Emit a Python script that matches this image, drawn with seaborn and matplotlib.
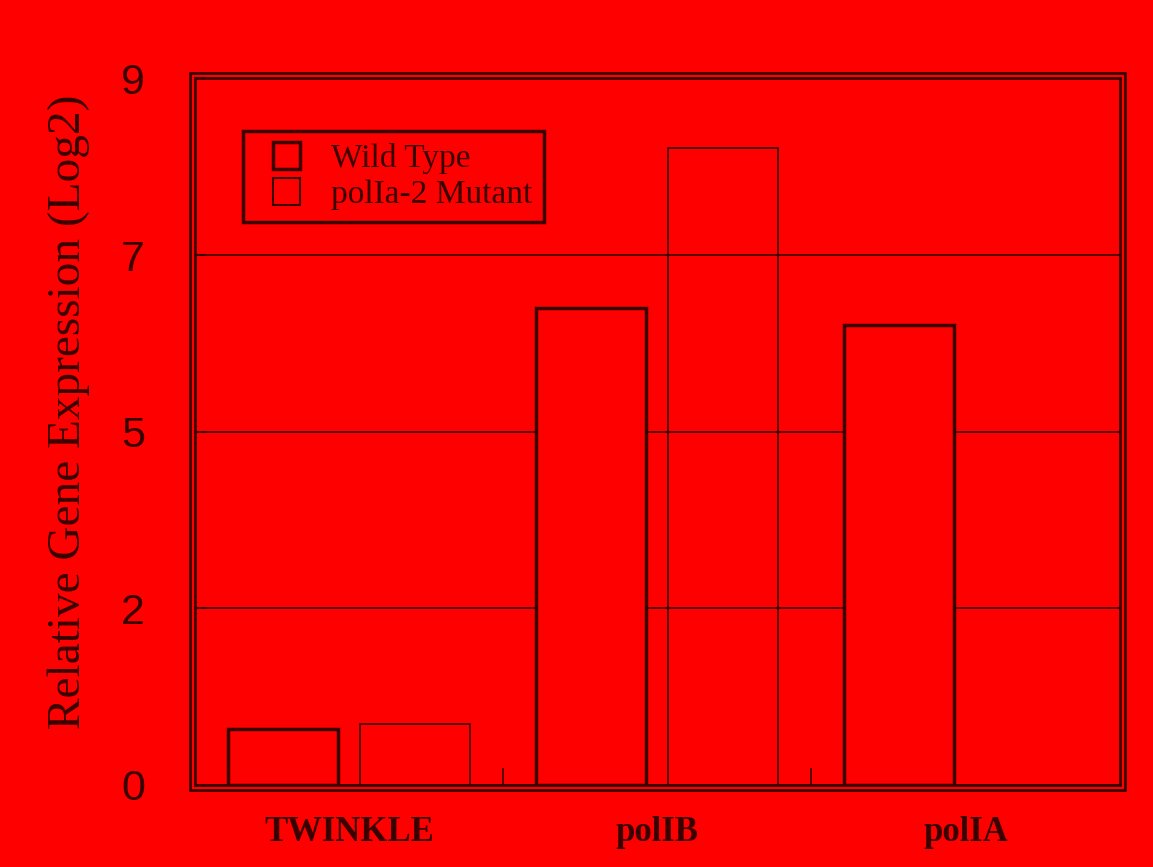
import matplotlib
matplotlib.use("Agg")
import matplotlib.pyplot as plt
from matplotlib.patches import Patch, Rectangle
from matplotlib.legend_handler import HandlerPatch
import pandas as pd
import seaborn as sns

genes = ["TWINKLE", "polIB", "polIA"]
wild_type = [0.71, 6.07, 5.86]
mutant = [0.78, 8.11, 0.0]
series_names = ["Wild Type", "polIa-2 Mutant"]
y_ticks = [0, 2.25, 4.5, 6.75, 9]
y_tick_labels = ["0", "2", "5", "7", "9"]

df = pd.DataFrame({
    "gene": genes * 2,
    "value": wild_type + mutant,
    "group": [series_names[0]] * len(genes) + [series_names[1]] * len(genes),
})

bg = "#ff0000"
ink = "#3a0000"

sns.set_theme(style="white")
plt.rcParams['font.family'] = ['Liberation Serif', 'DejaVu Serif']

fig = plt.figure(figsize=(11.53, 8.67), dpi=100, facecolor=bg)
ax = fig.add_axes([0.169, 0.0946, 0.802, 0.815])
ax.set_facecolor(bg)
ax.yaxis.grid(True, color=ink, linewidth=1.2)
ax.set_axisbelow(True)

sns.barplot(data=df, x="gene", y="value", hue="group", palette=[bg, bg], saturation=1,
            width=0.86, gap=0.17, edgecolor=ink, linewidth=2.5, ax=ax, legend=False)

# mutant bars: open outline
for bar in ax.containers[1]:
    bar.set_facecolor("none")
    bar.set_linewidth(1.2)

ax.set_ylim(0, 9)
ax.set_xlim(-0.5, 2.5)
ax.set_yticks(y_ticks, y_tick_labels)
for lab in ax.get_yticklabels():
    lab.set_family(['Liberation Sans', 'DejaVu Sans'])
ax.tick_params(axis='y', direction='in', length=8, width=1.5, color=ink,
               labelsize=31, labelcolor=ink, pad=36, left=True)
ax.tick_params(axis='x', length=0, labelsize=25, labelcolor=ink, pad=22)
for lab in ax.get_xticklabels():
    lab.set_fontweight('bold')
ax.set_xticks([0.5, 1.5], minor=True)
ax.tick_params(axis='x', which='minor', direction='in', length=12, width=1.2, color=ink, bottom=True)

ax.set_xlabel("")
ax.set_ylabel("Relative Gene Expression (Log2)", fontsize=34, color=ink)
ax.yaxis.set_label_coords(-0.113, 0.528)

for side in ax.spines.values():
    side.set_color(ink)
    side.set_linewidth(2)
ax.add_patch(Rectangle((-0.0054, -0.007), 1.0108, 1.014, transform=ax.transAxes,
                       fill=False, clip_on=False, linewidth=2, edgecolor=ink))


def square_handle(legend, orig_handle, xdescent, ydescent, width, height, fontsize):
    side = height * 1.1
    return Rectangle((width - side - xdescent, -ydescent - 0.05 * height), side, side)


handles = [
    Patch(facecolor=bg, edgecolor=ink, linewidth=2.5, label=series_names[0]),
    Patch(facecolor="none", edgecolor=ink, linewidth=1.5, label=series_names[1]),
]
leg = ax.legend(handles=handles, loc="upper left", bbox_to_anchor=(0.052, 0.925),
                fontsize=24, frameon=True, fancybox=False, facecolor=bg, edgecolor=ink,
                framealpha=1, labelcolor=ink, handlelength=1.35, handleheight=0.75,
                borderpad=0.35, handletextpad=0.95, borderaxespad=0, labelspacing=0.15,
                handler_map={Patch: HandlerPatch(patch_func=square_handle)})
leg.get_frame().set_linewidth(2.5)

fig.savefig("out.png", dpi=100, facecolor=bg)
